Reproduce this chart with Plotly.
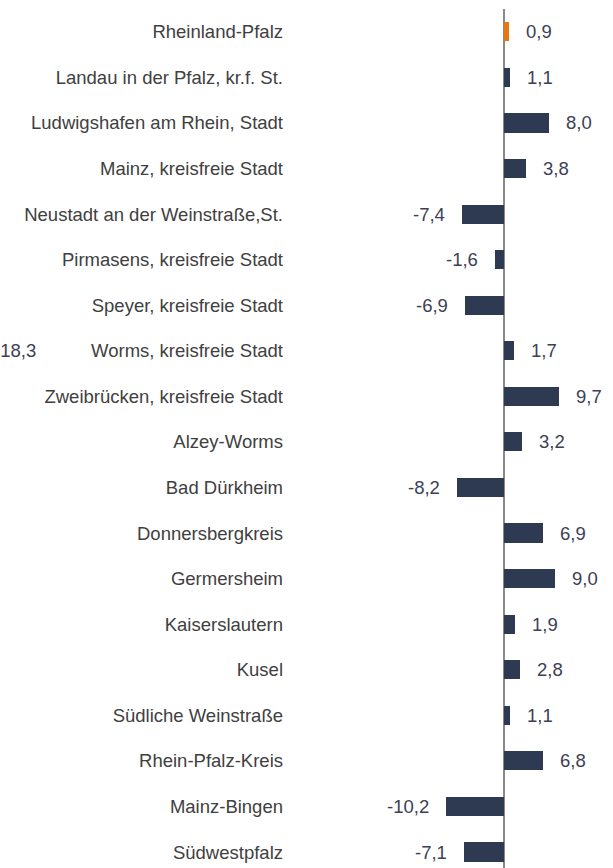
import plotly.graph_objects as go

# Kreise und kreisfreie Städte in Rheinland-Pfalz (Veränderung in %)
regions = [
    "Rheinland-Pfalz",
    "Landau in der Pfalz, kr.f. St.",
    "Ludwigshafen am Rhein, Stadt",
    "Mainz, kreisfreie Stadt",
    "Neustadt an der Weinstraße,St.",
    "Pirmasens, kreisfreie Stadt",
    "Speyer, kreisfreie Stadt",
    "Worms, kreisfreie Stadt",
    "Zweibrücken, kreisfreie Stadt",
    "Alzey-Worms",
    "Bad Dürkheim",
    "Donnersbergkreis",
    "Germersheim",
    "Kaiserslautern",
    "Kusel",
    "Südliche Weinstraße",
    "Rhein-Pfalz-Kreis",
    "Mainz-Bingen",
    "Südwestpfalz",
]
values = [0.9, 1.1, 8.0, 3.8, -7.4, -1.6, -6.9, 1.7, 9.7, 3.2, -8.2, 6.9,
          9.0, 1.9, 2.8, 1.1, 6.8, -10.2, -7.1]

# Wert ohne Balken in der Worms-Zeile (links am Rand)
extra_row = "Worms, kreisfreie Stadt"
extra_value = -18.3

NAVY = "#2e3a52"
ORANGE = "#e8780e"
LABEL = "#404040"
VALUE = "#3b4154"
FONT = "Liberation Sans, Arial, sans-serif"
FS = 18.5


def fmt(v):
    return f"{v:.1f}".replace(".", ",")


colors = [ORANGE if r == "Rheinland-Pfalz" else NAVY for r in regions]

fig = go.Figure(
    go.Bar(
        x=values,
        y=regions,
        orientation="h",
        marker=dict(color=colors, line=dict(width=0)),
        width=0.42,
        hoverinfo="skip",
    )
)

annotations = []
for r, v in zip(regions, values):
    annotations.append(
        dict(
            x=v, y=r, xref="x", yref="y",
            text=fmt(v), showarrow=False,
            xanchor="left" if v >= 0 else "right",
            xshift=15 if v >= 0 else -15,
            font=dict(family=FONT, size=FS, color=VALUE),
        )
    )

annotations.append(
    dict(
        x=-0.805, y=extra_row, xref="paper", yref="y",
        text=fmt(extra_value), showarrow=False, xanchor="right",
        font=dict(family=FONT, size=FS, color=VALUE),
    )
)

fig.update_layout(
    width=613,
    height=868,
    margin=dict(l=290, r=10, t=9, b=0),
    paper_bgcolor="white",
    plot_bgcolor="white",
    showlegend=False,
    bargap=0,
    annotations=annotations,
    xaxis=dict(
        range=[-37.68, 17.43],
        showgrid=False,
        showticklabels=False,
        ticks="",
        zeroline=True,
        zerolinecolor="#8a8a8a",
        zerolinewidth=1.5,
        showline=False,
    ),
    yaxis=dict(
        type="category",
        categoryorder="array",
        categoryarray=regions,
        range=[18.35, -0.5],
        showgrid=False,
        ticks="",
        showline=False,
        ticklabelstandoff=6,
        tickfont=dict(family=FONT, size=FS, color=LABEL),
    ),
)

fig.write_html("out.html")
